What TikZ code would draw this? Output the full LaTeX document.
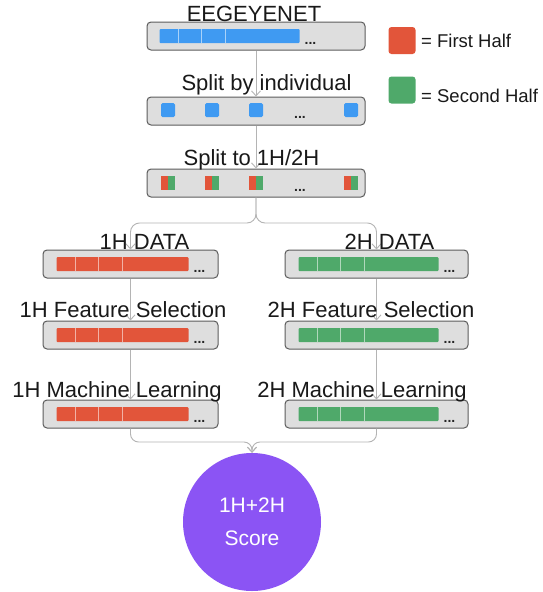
\documentclass[tikz,border=0pt]{standalone}
\usepackage{fontspec}
\setmainfont{Liberation Sans}
\usetikzlibrary{arrows.meta,calc}
\definecolor{cblue}{HTML}{3F9AF2}
\definecolor{cred}{HTML}{E2553A}
\definecolor{cgreen}{HTML}{4FA96A}
\definecolor{cbox}{HTML}{DEDEDE}
\definecolor{cedge}{HTML}{5C5C5C}
\definecolor{carrow}{HTML}{B4B4B4}
\definecolor{cpurple}{HTML}{8B54F4}
\newcommand{\databar}[4]{%
  \fill[#2, rounded corners=1pt] ($(#1.west)+(#3,-7)$) rectangle ++(#4,14);
  \foreach \d in {19,42,65.5} \draw[white!55!#2, line width=0.6pt] ($(#1.west)+(#3+\d,-7)$) -- ++(0,14);
  \node[dotsy, anchor=base west] at ($(#1.west)+(#3+#4+5,8)$) {...};
}
\newcommand{\bsq}[2]{\fill[cblue, rounded corners=1.5pt] (#1-7,#2-7) rectangle ++(14,14);}
\newcommand{\hsq}[2]{\fill[cred] (#1-7,#2-7) rectangle ++(7,14); \fill[cgreen] (#1,#2-7) rectangle ++(7,14);}
\begin{document}
\begin{tikzpicture}[x=1pt,y=-1pt,
  box/.style={draw=cedge, fill=cbox, line width=1pt, rounded corners=4pt, minimum height=28pt, inner sep=0pt},
  title/.style={font=\fontsize{22}{26}\selectfont, anchor=base, inner sep=0pt, text=black!90},
  legtext/.style={font=\fontsize{18.5}{22}\selectfont, anchor=base west, inner sep=0pt, text=black!90},
  arr/.style={draw=carrow, line width=0.9pt, -{Straight Barb[length=5pt,width=9pt]}},
  dotsy/.style={font=\fontsize{14}{14}\selectfont\bfseries, inner sep=0pt, text=black!85}]
\useasboundingbox (0,0) rectangle (543,592);
\fill[white] (0,0) rectangle (543,592);

% boxes
\node[box, minimum width=218pt] (b1) at (256,36) {};
\node[box, minimum width=218pt] (b2) at (256,111) {};
\node[box, minimum width=218pt] (b3) at (256,183) {};
\node[box, minimum width=175pt] (l1) at (130.5,264) {};
\node[box, minimum width=175pt] (l2) at (130.5,335) {};
\node[box, minimum width=175pt] (l3) at (130.5,414) {};
\node[box, minimum width=183pt] (r1) at (376.5,264) {};
\node[box, minimum width=183pt] (r2) at (376.5,335) {};
\node[box, minimum width=183pt] (r3) at (376.5,414) {};
\node[circle, fill=cpurple, minimum size=138pt, inner sep=0pt] (sc) at (252,522) {};

% contents
\databar{b1}{cblue}{13}{140}
\bsq{168}{110} \bsq{212}{110} \bsq{256}{110} \bsq{351}{110}
\node[dotsy, anchor=base] at (300,118) {...};
\hsq{168}{183} \hsq{212}{183} \hsq{256}{183} \hsq{351}{183}
\node[dotsy, anchor=base] at (300,191) {...};
\databar{l1}{cred}{14}{132}
\databar{l2}{cred}{14}{132}
\databar{l3}{cred}{14}{132}
\databar{r1}{cgreen}{14}{140}
\databar{r2}{cgreen}{14}{140}
\databar{r3}{cgreen}{14}{140}

% connectors
\coordinate (split) at (256,223);
\coordinate (merge) at (252,442);
\draw[arr] (b1.south) -- (b2.north);
\draw[arr] (b2.south) -- (b3.north);
\draw[arr, rounded corners=9pt] (b3.south) -- (split) -| (l1.north);
\draw[arr, rounded corners=9pt] (b3.south) -- (split) -| (r1.north);
\draw[arr] (l1.south) -- (l2.north);
\draw[arr] (l2.south) -- (l3.north);
\draw[arr] (r1.south) -- (r2.north);
\draw[arr] (r2.south) -- (r3.north);
\draw[arr, rounded corners=8pt] (l3.south) |- (merge) -- (sc.north);
\draw[arr, rounded corners=8pt] (r3.south) |- (merge) -- (sc.north);

% titles
\node[title] (t1) at (254,21) {EEGEYENET};
\node[title] (t2) at (266.5,90) {Split by individual};
\node[title] (t3) at (251.5,165) {Split to 1H/2H};
\node[title] (tl1) at (144.5,249) {1H DATA};
\node[title] (tr1) at (389.5,249) {2H DATA};
\node[title] (tl2) at (123,317) {1H Feature Selection};
\node[title] (tr2) at (371,317) {2H Feature Selection};
\node[title] (tl3) at (117,397) {1H Machine Learning};
\node[title] (tr3) at (362,397) {2H Machine Learning};

\node[text=white, align=center, font=\fontsize{21}{33}\selectfont, inner sep=0pt] (sct) at (sc.center) {1H+2H\\Score};

% legend
\node[fill=cred, rounded corners=3pt, minimum size=27pt, inner sep=0pt] (lr) at (402,40.5) {};
\node[fill=cgreen, rounded corners=3pt, minimum size=27pt, inner sep=0pt] (lg) at (402,90) {};
\node[legtext] (lrt) at (421,47) {= First Half};
\node[legtext] (lgt) at (421,102) {= Second Half};
\end{tikzpicture}
\end{document}
